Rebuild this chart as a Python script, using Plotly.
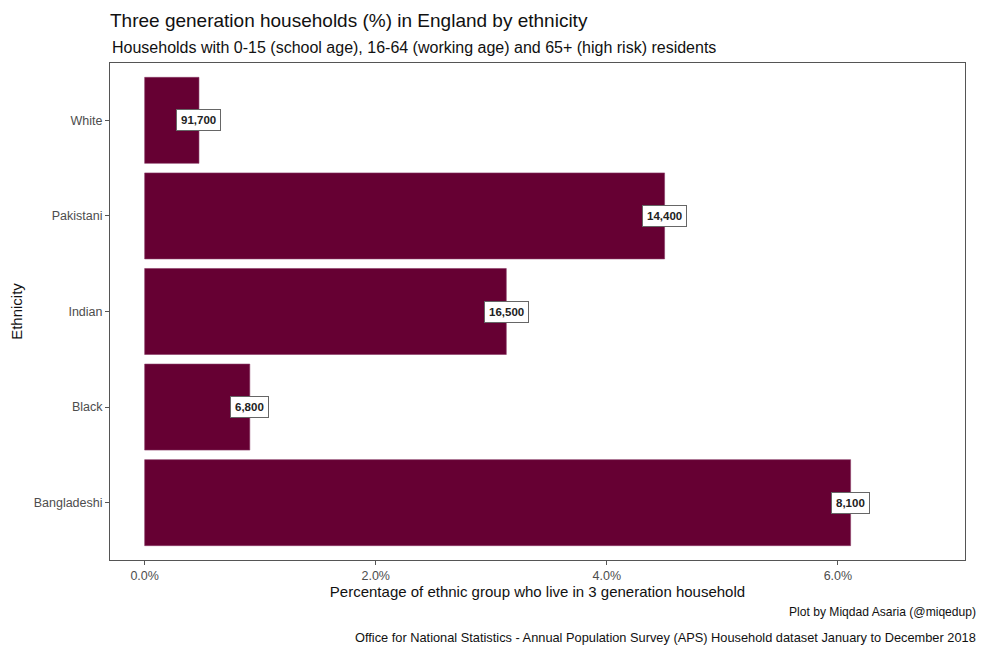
import plotly.graph_objects as go

ethnicity = ["Bangladeshi", "Black", "Indian", "Pakistani", "White"]
pct_three_gen = [6.11, 0.91, 3.13, 4.50, 0.47]
household_counts = ["8,100", "6,800", "16,500", "14,400", "91,700"]
x_tick_vals = [0, 2, 4, 6]
x_tick_text = ["0.0%", "2.0%", "4.0%", "6.0%"]

FONT = "Liberation Sans, Arial, sans-serif"
BAR = "#660033"

fig = go.Figure()
fig.add_trace(go.Bar(
    x=pct_three_gen, y=ethnicity, orientation="h", width=0.9,
    marker=dict(color=BAR, line=dict(color="#8a3a66", width=0.6)),
    hoverinfo="skip", showlegend=False,
))

for e, v, c in zip(ethnicity, pct_three_gen, household_counts):
    fig.add_annotation(
        x=v, y=e, xref="x", yref="y", text="<b>%s</b>" % c, showarrow=False,
        font=dict(family=FONT, size=11.5, color="#222222"),
        bgcolor="white", bordercolor="#666666", borderwidth=1, borderpad=4,
        xanchor="center", yanchor="middle",
    )

fig.add_annotation(
    x=0, xref="paper", y=1.032, yref="paper",
    text="Households with 0-15 (school age), 16-64 (working age) and 65+ (high risk) residents",
    showarrow=False, xanchor="left", yanchor="middle",
    font=dict(family=FONT, size=16, color="#111111"),
)
fig.add_annotation(
    x=1.0152, xref="paper", y=-0.1046, yref="paper", text="Plot by Miqdad Asaria (@miqedup)",
    showarrow=False, xanchor="right", yanchor="middle",
    font=dict(family=FONT, size=12.1, color="#111111"),
)
fig.add_annotation(
    x=1.0152, xref="paper", y=-0.155, yref="paper",
    text="Office for National Statistics - Annual Population Survey (APS) Household dataset January to December 2018",
    showarrow=False, xanchor="right", yanchor="middle",
    font=dict(family=FONT, size=12.8, color="#111111"),
)

fig.update_layout(
    width=993, height=646,
    margin=dict(l=102, r=36, t=55, b=94, autoexpand=False),
    paper_bgcolor="white", plot_bgcolor="white",
    font=dict(family=FONT),
    title=dict(
        text="Three generation households (%) in England by ethnicity",
        x=102 / 993, xanchor="left", xref="container",
        y=1 - 12 / 646, yanchor="middle", yref="container",
        font=dict(family=FONT, size=19, color="#111111"),
    ),
    xaxis=dict(
        range=[-0.30, 7.10], tickvals=x_tick_vals, ticktext=x_tick_text,
        showgrid=False, zeroline=False, showline=True, mirror=True, automargin=False,
        linecolor="#555555", linewidth=1, ticks="outside", ticklen=4,
        tickcolor="#555555", tickfont=dict(family=FONT, size=12.5, color="#4d4d4d"),
        title=dict(text="Percentage of ethnic group who live in 3 generation household",
                   font=dict(family=FONT, size=15, color="#111111"), standoff=3),
    ),
    yaxis=dict(
        range=[-0.6, 4.6], categoryorder="array", categoryarray=ethnicity,
        showgrid=False, zeroline=False, showline=True, mirror=True, automargin=False,
        linecolor="#555555", linewidth=1, ticks="outside", ticklen=4,
        tickcolor="#555555", tickfont=dict(family=FONT, size=12.5, color="#4d4d4d"),
        title=dict(text="Ethnicity", font=dict(family=FONT, size=15, color="#111111"), standoff=12),
    ),
)

fig.write_html("out.html")
